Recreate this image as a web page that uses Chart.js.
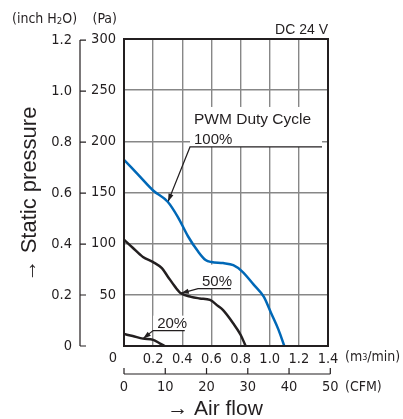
<!DOCTYPE html>
<html>
<head>
<meta charset="utf-8">
<script src="https://cdn.jsdelivr.net/npm/chart.js@4.4.0/dist/chart.umd.min.js"></script>
<style>
  html, body { margin: 0; padding: 0; background: #fff; }
  #wrap { position: relative; width: 403px; height: 419px; }
</style>
</head>
<body>
<div id="wrap"><canvas id="pq"></canvas></div>
<script>
// air flow (m3/min) vs static pressure (Pa)
const flow100 = [0, 0.1, 0.2, 0.3, 0.37, 0.44, 0.51, 0.56, 0.6, 0.68, 0.75, 0.81, 0.89, 0.96, 1.01, 1.06, 1.1];
const pres100 = [182, 167, 152, 141, 126, 107, 92, 84, 82, 81, 79, 73, 60, 48, 32, 16, 0];
const flow50 = [0, 0.06, 0.13, 0.2, 0.26, 0.3, 0.35, 0.39, 0.46, 0.52, 0.59, 0.646, 0.68, 0.75, 0.8, 0.835];
const pres50 = [104, 96, 87, 82, 76, 68, 58, 51.5, 48, 46.5, 45, 39, 35, 22, 11, 0];
const flow20 = [0, 0.06, 0.13, 0.2, 0.245, 0.28];
const pres20 = [11.7, 9.8, 7.2, 6, 2.6, 0];

// leader lines for the duty cycle labels (tip on curve -> elbow -> end)
const lead100 = [{x: 0.302, y: 141}, {x: 0.453, y: 194.5}, {x: 1.359, y: 194.5}];
const lead50 = [{x: 0.39, y: 51.5}, {x: 0.508, y: 56}, {x: 0.734, y: 56}];
const lead20 = [{x: 0.13, y: 7.2}, {x: 0.2, y: 15}, {x: 0.417, y: 15}];
const leadLabels = ['100%', '50%', '20%'];

// tick values
const flowTicks = [0, 0.2, 0.4, 0.6, 0.8, 1.0, 1.2, 1.4];
const paTicks = [0, 50, 100, 150, 200, 250, 300];
const inchTicks = [0, 0.2, 0.4, 0.6, 0.8, 1.0, 1.2];
const cfmTicks = [0, 10, 20, 30, 40, 50];

const PA_PER_INCH = 249.1;
const CFM_PER_M3MIN = 35.315;

const INK = '#231f20';
const BLUE = '#0068b7';
const GRID = '#878787';
const NARROW = '"Liberation Sans Narrow", "DejaVu Sans Condensed", sans-serif';
const SANS = '"Liberation Sans", Arial, sans-serif';
const TICK = 14.5;

const pts = (xs, ys) => xs.map((x, i) => ({x, y: ys[i]}));

const decor = {
  id: 'decor',
  beforeDatasetsDraw(chart) {
    // white boxes behind the labels, cutting the grid
    const {ctx} = chart;
    const xs = chart.scales.x, ys = chart.scales.y;
    const boxes = [[lead100, 40], [lead50, 24], [lead20, 15]];
    ctx.save();
    ctx.fillStyle = '#fff';
    boxes.forEach(([l, h]) => {
      const x0 = xs.getPixelForValue(l[1].x), x1 = xs.getPixelForValue(l[2].x);
      const y0 = ys.getPixelForValue(l[1].y);
      ctx.fillRect(x0, y0 - h, x1 - x0, h);
    });
    ctx.restore();
  },
  afterDatasetsDraw(chart) {
    const {ctx, chartArea: a} = chart;
    const xs = chart.scales.x, ys = chart.scales.y;
    ctx.save();

    // arrow heads on the leaders
    ctx.fillStyle = INK;
    [lead100, lead50, lead20].forEach(l => {
      const tx = xs.getPixelForValue(l[0].x), ty = ys.getPixelForValue(l[0].y);
      const ex = xs.getPixelForValue(l[1].x), ey = ys.getPixelForValue(l[1].y);
      const ang = Math.atan2(ty - ey, tx - ex);
      ctx.save();
      ctx.translate(tx, ty);
      ctx.rotate(ang);
      ctx.beginPath();
      ctx.moveTo(0, 0);
      ctx.lineTo(-8, -2.6);
      ctx.lineTo(-8, 2.6);
      ctx.closePath();
      ctx.fill();
      ctx.restore();
    });

    // labels over the leaders
    ctx.fillStyle = INK;
    ctx.textAlign = 'left';
    ctx.textBaseline = 'alphabetic';
    [lead100, lead50, lead20].forEach((l, i) => {
      const x0 = xs.getPixelForValue(l[1].x), y0 = ys.getPixelForValue(l[1].y);
      ctx.font = '15px ' + SANS;
      ctx.fillText(leadLabels[i], x0 + 4, y0 - 3);
      if (i === 0) {
        ctx.font = '15.5px ' + SANS;
        ctx.fillText('PWM Duty Cycle', x0 + 4, y0 - 23);
      }
    });

    // plot frame
    ctx.strokeStyle = INK;
    ctx.lineWidth = 2;
    ctx.strokeRect(a.left, a.top, a.right - a.left, a.bottom - a.top);

    // DC 24 V
    ctx.font = '14px ' + SANS;
    ctx.textAlign = 'right';
    ctx.fillText('DC 24 V', a.right, a.top - 5);

    // inch H2O axis
    const AX = 80;
    ctx.lineWidth = 1.2;
    ctx.beginPath();
    ctx.moveTo(AX, ys.getPixelForValue(0));
    ctx.lineTo(AX, ys.getPixelForValue(1.2 * PA_PER_INCH));
    inchTicks.forEach(v => {
      const py = ys.getPixelForValue(v * PA_PER_INCH);
      ctx.moveTo(AX, py);
      ctx.lineTo(AX + 6, py);
    });
    ctx.stroke();
    ctx.font = TICK + 'px ' + NARROW;
    ctx.textAlign = 'right';
    ctx.textBaseline = 'middle';
    inchTicks.forEach(v => {
      const py = ys.getPixelForValue(v * PA_PER_INCH);
      ctx.fillText(v === 0 ? '0' : v.toFixed(1), AX - 8, py);
    });

    // origin label
    ctx.textAlign = 'center';
    ctx.fillText('0', a.left - 11, a.bottom + 12);

    // unit headers
    ctx.textBaseline = 'alphabetic';
    ctx.textAlign = 'left';
    let hx = 12;
    const hy = 23;
    ctx.font = '14px ' + NARROW;
    ctx.fillText('(inch H', hx, hy); hx += ctx.measureText('(inch H').width;
    ctx.font = '9.5px ' + NARROW;
    ctx.fillText('2', hx, hy + 1); hx += ctx.measureText('2').width;
    ctx.font = '14px ' + NARROW;
    ctx.fillText('O)', hx, hy);
    ctx.textAlign = 'right';
    ctx.fillText('(Pa)', a.left - 7, hy);

    // CFM axis
    const CY = 374;
    ctx.beginPath();
    ctx.moveTo(xs.getPixelForValue(0), CY);
    ctx.lineTo(xs.getPixelForValue(50 / CFM_PER_M3MIN), CY);
    cfmTicks.forEach(v => {
      const px = xs.getPixelForValue(v / CFM_PER_M3MIN);
      ctx.moveTo(px, CY);
      ctx.lineTo(px, CY - 6);
    });
    ctx.stroke();
    ctx.font = TICK + 'px ' + NARROW;
    ctx.textAlign = 'center';
    ctx.textBaseline = 'middle';
    cfmTicks.forEach(v => {
      ctx.fillText(String(v), xs.getPixelForValue(v / CFM_PER_M3MIN), CY + 13);
    });

    // units on the right
    ctx.textAlign = 'left';
    ctx.font = '14px ' + NARROW;
    ctx.fillText('(CFM)', 345, CY + 13);
    let ux = 345;
    const uy = a.bottom + 11;
    ctx.fillText('(m', ux, uy); ux += ctx.measureText('(m').width;
    ctx.font = '9px ' + NARROW;
    ctx.fillText('3', ux, uy + 1); ux += ctx.measureText('3').width;
    ctx.font = '14px ' + NARROW;
    ctx.fillText('/min)', ux, uy);

    // axis titles
    ctx.font = '21px ' + SANS;
    ctx.textAlign = 'center';
    ctx.fillText('\u2192 Air flow', 215, 409);
    ctx.save();
    ctx.translate(30, 194);
    ctx.rotate(-Math.PI / 2);
    ctx.font = '22px ' + SANS;
    ctx.fillText('\u2192 Static pressure', 0, 0);
    ctx.restore();

    ctx.restore();
  }
};

const leaderStyle = {borderColor: INK, borderWidth: 1.2, pointRadius: 0, tension: 0, fill: false};

new Chart(document.getElementById('pq'), {
  type: 'line',
  data: {
    datasets: [
      {data: pts(flow100, pres100), borderColor: BLUE, borderWidth: 2.5, pointRadius: 0, cubicInterpolationMode: 'monotone', fill: false},
      {data: pts(flow50, pres50), borderColor: INK, borderWidth: 2.5, pointRadius: 0, cubicInterpolationMode: 'monotone', fill: false},
      {data: pts(flow20, pres20), borderColor: INK, borderWidth: 2.5, pointRadius: 0, cubicInterpolationMode: 'monotone', fill: false},
      Object.assign({data: lead100}, leaderStyle),
      Object.assign({data: lead50}, leaderStyle),
      Object.assign({data: lead20}, leaderStyle)
    ]
  },
  options: {
    responsive: true,
    maintainAspectRatio: false,
    animation: false,
    layout: {padding: {left: 84, right: 75, top: 39, bottom: 51}},
    plugins: {legend: {display: false}, tooltip: {enabled: false}},
    scales: {
      x: {
        type: 'linear', min: 0, max: 1.4,
        afterBuildTicks: s => { s.ticks = flowTicks.map(v => ({value: v})); },
        afterFit: s => { s.height = 22; },
        grid: {color: GRID, lineWidth: 1.4, drawTicks: false},
        border: {display: false},
        ticks: {
          color: INK, padding: 5, maxRotation: 0, autoSkip: false,
          font: {family: NARROW, size: TICK},
          callback: v => v === 0 ? '' : v.toFixed(1)
        }
      },
      y: {
        type: 'linear', min: 0, max: 300,
        afterBuildTicks: s => { s.ticks = paTicks.map(v => ({value: v})); },
        afterFit: s => { s.width = 40; },
        grid: {color: GRID, lineWidth: 1.4, drawTicks: false},
        border: {display: false},
        ticks: {
          color: INK, padding: 8,
          font: {family: NARROW, size: TICK},
          callback: v => v === 0 ? '' : String(v)
        }
      }
    }
  },
  plugins: [decor]
});
</script>
</body>
</html>
